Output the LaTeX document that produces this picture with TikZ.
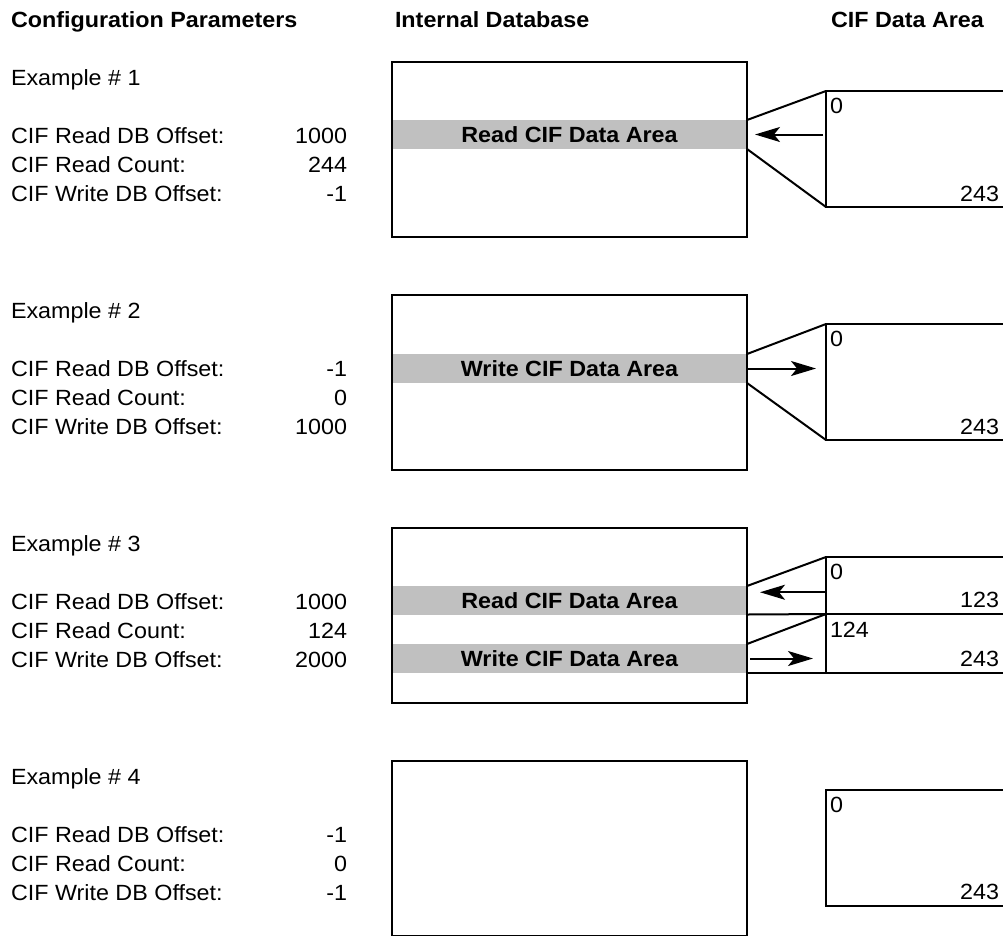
\documentclass[tikz,border=0pt]{standalone}
\usepackage{fontspec}
\setmainfont[FakeStretch=1.06]{Liberation Sans}
\usetikzlibrary{arrows.meta,calc}
\definecolor{bandgray}{RGB}{192,192,192}
\begin{document}
\begin{tikzpicture}[x=1pt,y=-1pt,
  every node/.style={inner sep=0pt, outer sep=0pt},
  hdr/.style={anchor=base west, font=\fontsize{22}{26}\selectfont\bfseries},
  txt/.style={anchor=base west, font=\fontsize{22}{26}\selectfont},
  val/.style={anchor=base east, font=\fontsize{22}{26}\selectfont},
  dbbox/.style={draw, line width=2pt, anchor=north west, minimum width=355pt, minimum height=175pt},
  band/.style={fill=bandgray, anchor=north west, minimum width=355pt, minimum height=29pt, font=\fontsize{22}{26}\selectfont\bfseries},
  cifbox/.style={draw, line width=2.2pt, anchor=north west, minimum width=200pt},
  conn/.style={line width=2pt},
  arr/.style={line width=2pt, -{Stealth[length=25pt,width=15pt,inset=6pt]}},
]
\fill[white] (0,0) rectangle (1003,935);
\clip (0,0) rectangle (1003,935);

% headers
\node[hdr] (h1) at (11,27) {Configuration Parameters};
\node[hdr] (h2) at (395,27) {Internal Database};
\node[hdr] (h3) at (831,27) {CIF Data Area};

% grey bands
\node[band] (b1) at (392,120) {Read CIF Data Area};
\node[band] (b2) at (392,354) {Write CIF Data Area};
\node[band, minimum height=28.5pt] (b3r) at (392,586) {Read CIF Data Area};
\node[band] (b3w) at (392,644) {Write CIF Data Area};

% left parameter texts and database boxes
\foreach \i/\dy/\va/\vb/\vc in {1/0/1000/244/-1, 2/233/-1/0/1000, 3/466/1000/124/2000, 4/699/-1/0/-1}{
  \node[txt] (ex\i) at (11,{85+\dy}) {Example \# \i};
  \node[txt] (ra\i) at (11,{143+\dy}) {CIF Read DB Offset:};
  \node[txt] (rc\i) at (11,{172+\dy}) {CIF Read Count:};
  \node[txt] (wa\i) at (11,{201+\dy}) {CIF Write DB Offset:};
  \node[val] (va\i) at (347,{143+\dy}) {\va};
  \node[val] (vb\i) at (347,{172+\dy}) {\vb};
  \node[val] (vc\i) at (347,{201+\dy}) {\vc};
  \node[dbbox] (db\i) at (392,{62+\dy}) {};
}

% CIF data area boxes
\node[cifbox, minimum height=116pt] (cif1) at (826,91) {};
\node[cifbox, minimum height=116pt] (cif2) at (826,324) {};
\node[cifbox, minimum height=57pt] (cif3a) at (826,557) {};
\node[cifbox, minimum height=59pt] (cif3b) at (826,614) {};
\node[cifbox, minimum height=116pt] (cif4) at (826,790) {};

\node[txt] (z1) at (830,113) {0};
\node[val] (e1) at (999,201) {243};
\node[txt] (z2) at (830,346) {0};
\node[val] (e2) at (999,434) {243};
\node[txt] (z3) at (830,579) {0};
\node[val] (e3a) at (999,607) {123};
\node[txt] (s3) at (830,637) {124};
\node[val] (e3b) at (999,666) {243};
\node[txt] (z4) at (830,812) {0};
\node[val] (e4) at (999,899) {243};

% connectors example 1
\draw[conn] (b1.north east) -- (cif1.north west);
\draw[conn] (b1.south east) -- (cif1.south west);
\draw[arr, shorten <=3pt, shorten >=8pt] (cif1.west |- b1.east) -- (b1.east);

% connectors example 2
\draw[conn] (b2.north east) -- (cif2.north west);
\draw[conn] (b2.south east) -- (cif2.south west);
\draw[arr, shorten <=1pt, shorten >=10pt] (b2.east) -- (cif2.west |- b2.east);

% connectors example 3
\draw[conn] (b3r.north east) -- (cif3a.north west);
\draw[conn] (b3r.south east) -- (cif3a.south west);
\draw[conn] (b3w.north east) -- (cif3b.north west);
\draw[conn] (b3w.south east) -- (cif3b.south west);
\draw[arr] ($(cif3a.west |- b3r.east)+(0,-8)$) -- ($(b3r.east)+(13,-8)$);
\draw[arr, shorten <=3pt, shorten >=13pt] (b3w.east) -- (cif3b.west |- b3w.east);
\end{tikzpicture}
\end{document}
